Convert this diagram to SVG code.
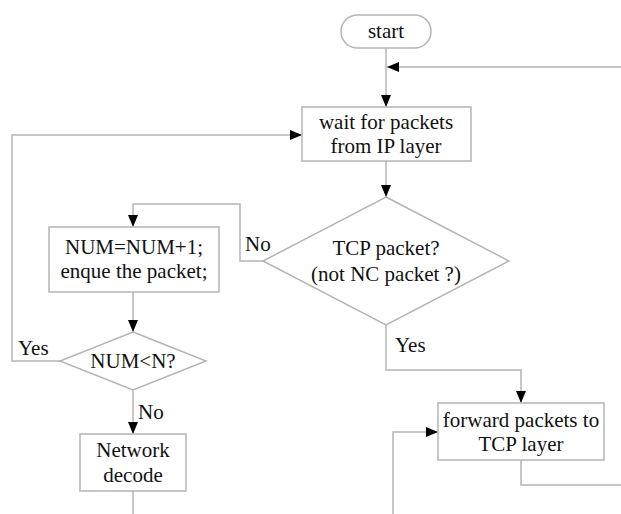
<svg xmlns="http://www.w3.org/2000/svg" width="621" height="514" viewBox="0 0 621 514">
<defs>
<style>
.n{fill:#fff;stroke:#b4b4b4;stroke-width:1.5}
.c{fill:none;stroke:#b4b4b4;stroke-width:1.5}
text{font-family:'Liberation Serif','Times New Roman','DejaVu Serif',serif;font-size:21px;fill:#111}
.m{text-anchor:middle}
</style>
<marker id="a" viewBox="0 0 12 10" refX="12" refY="5" markerWidth="12" markerHeight="10" markerUnits="userSpaceOnUse" orient="auto">
<path d="M0,0L12,5L0,10Z" fill="#000"/>
</marker>
</defs>
<rect width="621" height="514" fill="#fff"/>
<g id="connectors">
<path class="c" d="M386,48V107" marker-end="url(#a)"/>
<path class="c" d="M621,67H387" marker-end="url(#a)"/>
<path class="c" d="M386,161V197" marker-end="url(#a)"/>
<path class="c" d="M263,261H240V204H133V227" marker-end="url(#a)"/>
<path class="c" d="M133,292V332" marker-end="url(#a)"/>
<path class="c" d="M60,361H12V135H302" marker-end="url(#a)"/>
<path class="c" d="M133,390V434" marker-end="url(#a)"/>
<path class="c" d="M133,491V514"/>
<path class="c" d="M386,325V370H521V403" marker-end="url(#a)"/>
<path class="c" d="M393,514V432H438" marker-end="url(#a)"/>
<path class="c" d="M521,460V485H621"/>
</g>
<g id="start">
<rect class="n" x="341" y="15" width="90" height="33" rx="16.5"/>
<text class="m" x="386" y="38">start</text>
</g>
<g id="wait">
<rect class="n" x="302" y="107" width="169" height="54"/>
<text class="m" x="386" y="129">wait for packets</text>
<text class="m" x="386" y="153">from IP layer</text>
</g>
<g id="tcp">
<path class="n" d="M386,197L509,261L386,325L263,261Z"/>
<text class="m" x="386" y="255">TCP packet?</text>
<text class="m" x="386" y="281">(not NC packet ?)</text>
</g>
<g id="num">
<rect class="n" x="49" y="227" width="170" height="65"/>
<text class="m" x="134" y="254">NUM=NUM+1;</text>
<text class="m" x="134" y="278">enque the packet;</text>
</g>
<g id="numn">
<path class="n" d="M133,332L206,361L133,390L60,361Z"/>
<text class="m" x="133" y="368">NUM&lt;N?</text>
</g>
<g id="decode">
<rect class="n" x="80" y="434" width="106" height="57"/>
<text class="m" x="133" y="457">Network</text>
<text class="m" x="133" y="482">decode</text>
</g>
<g id="forward">
<rect class="n" x="438" y="403" width="166" height="57"/>
<text class="m" x="521" y="427">forward packets to</text>
<text class="m" x="521" y="451">TCP layer</text>
</g>
<g id="labels">
<text x="245" y="251">No</text>
<text x="18" y="355">Yes</text>
<text x="138" y="419">No</text>
<text x="395" y="352">Yes</text>
</g>
</svg>
